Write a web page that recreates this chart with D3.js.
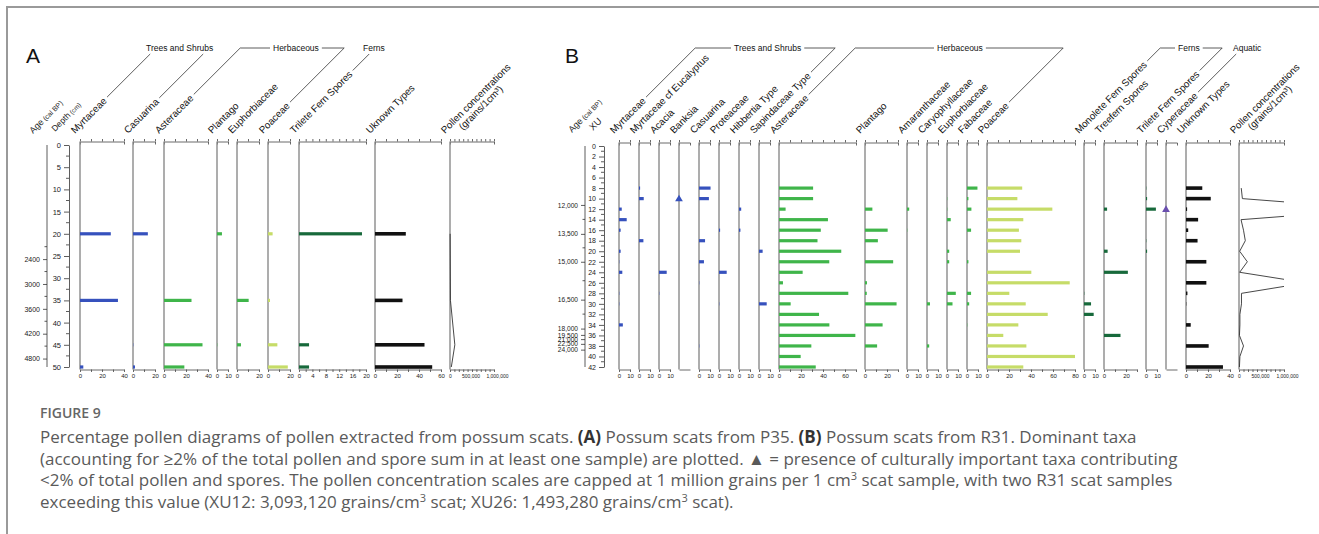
<!DOCTYPE html>
<meta charset="utf-8">
<head>
  <title>Figure 9 - pollen diagrams of possum scats</title>
</head>
<script src="https://cdn.jsdelivr.net/npm/d3@7"></script>
<style>
  body { margin: 0; background: #fff; }
  svg text { font-family: "Liberation Sans", Arial, sans-serif; }
  svg .cap text { font-family: "Open Sans", sans-serif; white-space: pre; }
</style>
<div id="chart"></div>
<script>

// ---------------- panel A : P35 (depth in cm) ----------------
var depthA = [20, 35, 45, 50];
var myrtaceaeA = [28, 34.5, 0, 3];
var casuarinaA = [13.5, 0, 0.3, 1.8];
var asteraceaeA = [0, 25, 35, 18.5];
var plantagoA = [4.5, 0, 0.5, 0];
var euphorbiaceaeA = [0, 10.6, 3.6, 0];
var poaceaeA = [4.2, 1.8, 8.5, 18];
var trileteA = [18.8, 0, 3, 3];
var unknownA = [28, 25, 45, 52];
var concA = [3000, 10000, 110000, 30000];
var ageTicksA = [2400, 3000, 3600, 4200, 4800];
var ageMinorA = [2100, 2700, 3300, 3900, 4500];
var ageKnotsA = [2400, 4800];
var ageKnotDepthA = [25.7, 48.1];

// ---------------- panel B : R31 (XU) ----------------
var xuB = [8, 10, 12, 14, 16, 18, 20, 22, 24, 26, 28, 30, 32, 34, 36, 38, 40, 42];
var myrtaceaeB   = [0, 0, 2.5, 7, 1.5, 0, 1.5, 0.3, 3, 0, 0.3, 0.3, 0, 3.5, 0, 0, 0, 0];
var myrtEucB     = [1, 4.3, 0, 0, 0, 4, 0, 0, 0, 0, 0, 0, 0, 0, 0, 0, 0, 0];
var acaciaB      = [0, 0, 0, 0, 0, 0, 0, 0, 7, 0, 0.3, 0, 0, 0, 0, 0, 0, 0];
var banksiaB     = [0, 1, 0, 0, 0, 0, 0, 0, 0, 0, 0, 0, 0, 0, 0, 0, 0, 0]; // presence only
var casuarinaB   = [10.5, 9, 0, 0, 0, 5.5, 0, 4.5, 0, 0.3, 0, 0, 0, 0, 0, 0.5, 0, 0];
var proteaceaeB  = [0, 0, 0, 0, 1, 0, 0, 0, 7, 0, 0, 0.3, 0, 0, 0, 0, 0, 0];
var hibbertiaB   = [0, 0, 2, 0, 1.3, 0, 0, 0, 0, 0, 0, 0, 0, 0, 0, 0, 0, 0];
var sapindB      = [0, 0, 0, 0, 0, 0, 3.3, 0, 0, 0, 0, 7, 0, 0, 0, 0, 0, 0];
var asteraceaeB  = [31, 31, 6, 44.5, 38, 35, 56.6, 45.7, 21.5, 3.6, 63, 10.6, 36.4, 45.8, 69.4, 29.4, 19.7, 33.4];
var plantagoB    = [0, 0, 6.7, 0, 20.6, 11.7, 0, 25.6, 0, 1.8, 1.6, 28.7, 0, 16, 0, 11, 0, 0];
var amaranthB    = [0, 0, 2, 0, 0.3, 0, 0, 0, 0, 0, 0, 0, 0, 0, 0, 0, 0, 0];
var caryophB     = [0, 0, 0, 0, 0, 0, 0, 0, 0, 0, 0, 2.7, 0, 0, 0, 2, 0, 0];
var euphorbB     = [0, 0.5, 0.3, 3.4, 0, 0, 2, 2, 0, 0, 8, 5, 0, 0, 0, 0, 0, 0];
var fabaceaeB    = [9.5, 1.3, 4, 0, 3.7, 0, 0, 1.3, 0, 0, 3.7, 2, 0, 0.5, 0, 0, 0, 0];
var poaceaeB     = [32, 27.6, 59.4, 33, 29, 31.2, 30, 0, 40.3, 75.2, 20.3, 35.2, 55.2, 28.5, 14.8, 35.8, 80, 33];
var monoleteB    = [0, 0, 0, 0, 0, 0, 0, 0, 0, 0, 0.3, 6.4, 8.8, 0, 0, 0, 0, 0];
var treefernB    = [0, 0, 2.8, 0, 0, 0, 3.3, 0, 21.7, 0, 0, 0, 0, 0, 15, 0, 0, 0];
var trileteB     = [0.5, 1, 9, 0, 0, 0.5, 1, 0, 0, 0, 0, 0, 0, 0, 0, 0, 0, 0];
var cyperaceaeB  = [0, 0, 1, 0, 0, 0, 0, 0, 0, 0, 0, 0, 0, 0, 0, 0, 0, 0]; // presence only
var unknownB     = [14.8, 22.5, 1, 11, 2, 10.5, 0, 18.5, 0, 18.5, 1.3, 0.5, 0, 4.3, 0, 20.6, 0, 33.6];
var concB = [50000, 75000, 3093120, 45000, 100000, 140000, 15000, 185000, 15000, 1493280,
             55000, 55000, 20000, 20000, 10000, 100000, 20000, 10000];
var ageTicksB = [12000, 13500, 15000, 16500, 18000, 19500, 21000, 22500, 24000];
var ageXUB = [11.2, 16.7, 22.0, 29.2, 34.7, 35.9, 36.7, 37.6, 38.7];
var ageMinorB = [12750, 14250, 15750, 17250];

// caption
var captionLines = [
  [["Percentage pollen diagrams of pollen extracted from possum scats. "], ["(A)", "b"], [" Possum scats from P35. "], ["(B)", "b"], [" Possum scats from R31. Dominant taxa"]],
  [["(accounting for \u22652% of the total pollen and spore sum in at least one sample) are plotted. \u25B2 = presence of culturally important taxa contributing"]],
  [["<2% of total pollen and spores. The pollen concentration scales are capped at 1 million grains per 1 cm"], ["3", "sup"], [" scat sample, with two R31 scat samples"]],
  [["exceeding this value (XU12: 3,093,120 grains/cm"], ["3", "sup"], [" scat; XU26: 1,493,280 grains/cm"], ["3", "sup"], [" scat)."]]
];

var BLUE = "#3651bd", GREEN = "#3fb54a", LIME = "#c6dc68", FERN = "#17693b", BLACK = "#111", PURPLE = "#6a4fae";
var S = Math.SQRT1_2;

var colsA = [
  {name: "Myrtaceae", v: myrtaceaeA, max: 40, step: 10, labels: [0, 20, 40], color: BLUE},
  {name: "Casuarina", v: casuarinaA, max: 20, step: 10, labels: [0, 20], color: BLUE},
  {name: "Asteraceae", v: asteraceaeA, max: 40, step: 10, labels: [0, 20, 40], color: GREEN},
  {name: "Plantago", v: plantagoA, max: 10, step: 10, labels: [0, 10], color: GREEN},
  {name: "Euphorbiaceae", v: euphorbiaceaeA, max: 20, step: 10, labels: [0, 20], color: GREEN},
  {name: "Poaceae", v: poaceaeA, max: 20, step: 10, labels: [0, 20], color: LIME},
  {name: "Trilete Fern Spores", v: trileteA, max: 20, step: 2, labels: [0, 4, 8, 12, 16, 20], color: FERN, width: 67},
  {name: "Uknown Types", v: unknownA, max: 60, step: 10, labels: [0, 20, 40, 60], color: BLACK},
  {name: "Pollen concentrations", sub: "(grains/1cm\u00B3)", v: concA, max: 1e6, step: 1e5, labels: [0, 5e5, 1e6], width: 44, line: true}
];

var small = function(name, v, color, opts) {
  var c = {name: name, v: v, max: 10, step: 10, labels: [0, 10], color: color};
  return Object.assign(c, opts || {});
};
var colsB = [
  small("Myrtaceae", myrtaceaeB, BLUE),
  small("Myrtaceae cf Eucalyptus", myrtEucB, BLUE),
  small("Acacia", acaciaB, BLUE),
  small("Banksia", banksiaB, BLUE, {marker: true, labels: [], step: 100}),
  small("Casuarina", casuarinaB, BLUE),
  small("Proteaceae", proteaceaeB, BLUE),
  small("Hibbertia Type", hibbertiaB, BLUE),
  small("Sapindaceae Type", sapindB, BLUE),
  {name: "Asteraceae", v: asteraceaeB, max: 70, step: 10, labels: [0, 20, 40, 60], color: GREEN},
  {name: "Plantago", v: plantagoB, max: 30, step: 10, labels: [0, 20], color: GREEN},
  small("Amaranthaceae", amaranthB, GREEN),
  small("Caryophyllaceae", caryophB, GREEN),
  small("Euphorbiaceae", euphorbB, GREEN),
  small("Fabaceae", fabaceaeB, GREEN),
  {name: "Poaceae", v: poaceaeB, max: 80, step: 10, labels: [0, 20, 40, 60, 80], color: LIME},
  small("Monolete Fern Spores", monoleteB, FERN),
  {name: "Treefern Spores", v: treefernB, max: 30, step: 10, labels: [0, 20], color: FERN},
  small("Trilete Fern Spores", trileteB, FERN),
  small("Cyperaceae", cyperaceaeB, PURPLE, {marker: true, labels: [], step: 100}),
  {name: "Unknown Types", v: unknownB, max: 40, step: 10, labels: [0, 20, 40], color: BLACK},
  {name: "Pollen concentrations", sub: "(grains/1cm\u00B3)", v: concB, max: 1e6, step: 1e5, labels: [0, 5e5, 1e6], width: 45, line: true}
];

var panelA = {
  letter: "A", letterX: 26, top: 145, bottom: 367, maxDepth: 50, depthStep: 5,
  depthX: 69, ageX: 47, depths: depthA, startX: 80, k: 1.1, gap: 9, labelY: 134,
  ages: ageTicksA, ageMinor: ageMinorA, ageKnots: ageKnotsA, ageKnotDepths: ageKnotDepthA,
  ageFmt: d3.format("d"), depthFont: 7.5, ageFont: 7,
  heads: [["Age", "(cal BP)", 33, 134, 9], ["Depth", "(cm)", 55, 132, 8.5]],
  cols: colsA,
  groups: [
    {text: "Trees and Shrubs", x: 146, links: [[0, "up"], [1, "up"]]},
    {text: "Herbaceous", x: 273, links: [[2, "left"], [5, "right"]]},
    {text: "Ferns", x: 363, links: [[6, "up"]]}
  ]
};
var panelB = {
  letter: "B", letterX: 565, top: 146, bottom: 367, maxDepth: 42, depthStep: 2,
  depthX: 604, ageX: 585, depths: xuB, startX: 619, k: 1.1, gap: 9, labelY: 134,
  ages: ageTicksB, ageMinor: ageMinorB, ageKnots: ageTicksB, ageKnotDepths: ageXUB,
  ageFmt: d3.format(","), depthFont: 7, ageFont: 6.6,
  heads: [["Age", "(cal BP)", 572, 133, 9], ["XU", "", 593, 131, 9.5]],
  cols: colsB,
  groups: [
    {text: "Trees and Shrubs", x: 734, links: [[0, "left"], [7, "right"]]},
    {text: "Herbaceous", x: 937, links: [[8, "left"], [14, "right"]]},
    {text: "Ferns", x: 1178, links: [[15, "left"], [17, "right"]]},
    {text: "Aquatic", x: 1233, links: [[18, "up"]]}
  ]
};

var svg = d3.select("#chart").append("svg").attr("width", 1319).attr("height", 534);

// figure frame (top and left rule)
svg.append("path").attr("d", "M7,534V7H1319").attr("fill", "none").attr("stroke", "#9a9a9a").attr("stroke-width", 2);

function styleAxis(sel, size, stroke) {
  sel.attr("font-family", null).attr("font-size", size);
  sel.selectAll("text").attr("fill", "#222");
  sel.selectAll("line, path").attr("stroke", stroke || "#444").attr("stroke-width", 0.8);
}

function drawPanel(p) {
  var g = svg.append("g");
  var y = d3.scaleLinear().domain([0, p.maxDepth]).range([p.top, p.bottom]);
  var headY = p.top - 3.5, footY = p.bottom + 2.5;

  g.append("text").attr("x", p.letterX).attr("y", 63).attr("font-size", 21).attr("fill", "#111").text(p.letter);

  // axis headings
  p.heads.forEach(function(h) {
    var t = g.append("text").attr("transform", "translate(" + h[2] + "," + h[3] + ") rotate(-45)")
      .attr("fill", "#222");
    t.append("tspan").attr("font-size", h[4]).text(h[0]);
    if (h[1]) t.append("tspan").attr("font-size", h[4] - 2).text(" " + h[1]);
  });

  // age axis (piecewise linear against depth)
  var ageY = d3.scaleLinear().domain(p.ageKnots).range(p.ageKnotDepths.map(y));
  var ga = g.append("g").attr("transform", "translate(" + p.ageX + ",0)")
    .call(d3.axisLeft(ageY).tickValues(p.ages).tickSize(4).tickFormat(p.ageFmt));
  ga.select(".domain").remove();
  ga.append("line").attr("y1", y(0)).attr("y2", y(p.maxDepth));
  ga.selectAll(".minor").data(p.ageMinor).enter().append("line").attr("class", "minor")
    .attr("x1", -2.5).attr("x2", 0).attr("y1", ageY).attr("y2", ageY);
  styleAxis(ga, p.ageFont, "#333");

  // depth / XU axis
  var gd = g.append("g").attr("transform", "translate(" + p.depthX + ",0)")
    .call(d3.axisLeft(y).tickValues(d3.range(0, p.maxDepth + 0.01, p.depthStep)).tickSize(5).tickSizeOuter(0));
  gd.selectAll(".minor").data(d3.range(p.depthStep / 2, p.maxDepth, p.depthStep)).enter().append("line")
    .attr("class", "minor").attr("x1", -3).attr("x2", 0).attr("y1", y).attr("y2", y);
  styleAxis(gd, p.depthFont, "#333");

  // taxon columns
  var x0 = p.startX;
  p.cols.forEach(function(c) {
    var w = c.width || c.max * p.k;
    var x = d3.scaleLinear().domain([0, c.max]).range([x0, x0 + w]);
    x0 += w + p.gap;
    var ticks = d3.range(0, c.max + c.step / 2, c.step);
    var fmt = c.max >= 1e5 ? d3.format(",") : d3.format("d");

    var top = g.append("g").attr("transform", "translate(0," + headY + ")")
      .call(d3.axisTop(x).tickValues(ticks).tickSize(2.5).tickSizeOuter(-3).tickFormat(""));
    styleAxis(top, 6, "#444");

    var bot = g.append("g").attr("transform", "translate(0," + footY + ")")
      .call(d3.axisBottom(x).tickValues(c.labels.length ? ticks : []).tickSize(2.5).tickSizeOuter(0)
        .tickFormat(function(d) { return c.labels.indexOf(d) >= 0 ? fmt(d) : ""; }));
    bot.selectAll("text").attr("y", 4.5);
    if (c.line) {
      // the last concentration label sits just past the scale end, as in the original
      bot.selectAll("text").filter(function(d) { return d == c.max; }).attr("dx", 3);
      bot.selectAll("text").filter(function(d) { return d == c.max / 2; }).attr("dx", -1.5);
    }
    styleAxis(bot, c.line ? 5 : 6, "#444");

    g.append("line").attr("x1", x(0)).attr("x2", x(0)).attr("y1", headY).attr("y2", footY)
      .attr("stroke", "#8a8a8a").attr("stroke-width", 1.4);

    var rows = p.depths.map(function(d, j) { return {d: d, v: c.v[j]}; });

    if (c.line) {
      var id = "clip" + p.letter;
      g.append("clipPath").attr("id", id).append("rect")
        .attr("x", x(0) - 1).attr("y", p.top - 2).attr("width", w + 1).attr("height", p.bottom - p.top + 4);
      g.append("path").datum(rows).attr("clip-path", "url(#" + id + ")")
        .attr("d", d3.line().x(function(e) { return x(e.v); }).y(function(e) { return y(e.d); }))
        .attr("fill", "none").attr("stroke", "#333").attr("stroke-width", 0.9);
    } else if (c.marker) {
      g.selectAll(null).data(rows.filter(function(e) { return e.v > 0; })).enter().append("path")
        .attr("transform", function(e) { return "translate(" + x(0) + "," + (y(e.d) + 0.5) + ")"; })
        .attr("d", d3.symbol(d3.symbolTriangle, 26)).attr("fill", c.color);
    } else {
      var bh = c.color == BLACK ? 3.6 : 3.2;
      g.selectAll(null).data(rows.filter(function(e) { return e.v > 0; })).enter().append("rect")
        .attr("x", x(0)).attr("y", function(e) { return y(e.d) - bh / 2; })
        .attr("width", function(e) { return Math.max(0.8, x(e.v) - x(0)); }).attr("height", bh)
        .attr("fill", c.color).attr("opacity", function(e) { return e.v < 0.6 ? 0.35 : 1; });
    }

    // rotated taxon label
    c.ax = x(0) - 5;
    var lab = g.append("text").attr("transform", "translate(" + c.ax + "," + p.labelY + ") rotate(-45)")
      .attr("font-size", 9.8).attr("fill", "#111");
    lab.append("tspan").text(c.name);
    c.len = lab.node().getComputedTextLength();
    if (c.sub) lab.append("tspan").attr("x", 15).attr("dy", 10).text(c.sub);
  });

  // group headings and leader lines
  p.groups.forEach(function(gr) {
    var t = g.append("text").attr("x", gr.x).attr("y", 51).attr("font-size", 8.5).attr("fill", "#111").text(gr.text);
    var tw = t.node().getComputedTextLength();
    gr.links.forEach(function(l) {
      var c = p.cols[l[0]];
      var L = c.len + 3;
      var ex = c.ax + L * S - 3.4 * S, ey = p.labelY - L * S - 3.4 * S;
      var pts;
      if (l[1] == "up") pts = [[ex, ey], [ex + (ey - 54), 54]];
      else if (l[1] == "left") pts = [[ex, ey], [ex + (ey - 48), 48], [gr.x - 3, 48]];
      else pts = [[gr.x + tw + 3, 48], [ex + (ey - 48), 48], [ex, ey]];
      g.append("path").attr("d", d3.line()(pts)).attr("fill", "none").attr("stroke", "#333").attr("stroke-width", 0.8);
    });
  });
}

drawPanel(panelA);
drawPanel(panelB);

// caption
var cap = svg.append("g").attr("class", "cap");
cap.append("text").attr("x", 40).attr("y", 418).attr("font-size", 14).attr("font-weight", 600)
  .attr("fill", "#666").text("FIGURE 9");
captionLines.forEach(function(line, i) {
  var t = cap.append("text").attr("x", 40).attr("y", 443 + i * 21.7).attr("font-size", 17).attr("fill", "#5a5a5a");
  var shift = 0;
  line.forEach(function(seg) {
    var ts = t.append("tspan").text(seg[0]);
    if (seg[1] == "b") ts.attr("font-weight", 700).attr("fill", "#333");
    if (seg[1] == "sup") { ts.attr("dy", -6.5).attr("font-size", 11).attr("fill", "#5a5a5a"); shift = 6.5; }
    else if (shift) { ts.attr("dy", shift); shift = 0; }
  });
});

</script>
